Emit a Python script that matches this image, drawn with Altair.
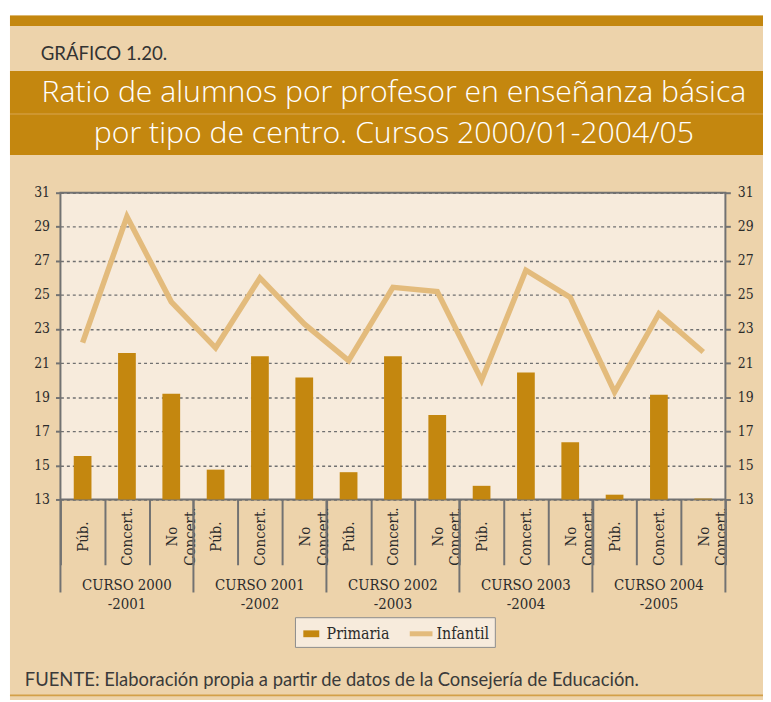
import altair as alt
import pandas as pd

# ---------------- data ----------------
cursos = ["CURSO 2000\n-2001", "CURSO 2001\n-2002", "CURSO 2002\n-2003",
          "CURSO 2003\n-2004", "CURSO 2004\n-2005"]
tipos = ["Púb.", "Concert.", "No Concert."]
primaria = [15.55, 21.6, 19.2, 14.75, 21.4, 20.15, 14.6, 21.4, 17.95,
            13.8, 20.45, 16.35, 13.28, 19.15, 13.05]
infantil = [22.2, 29.6, 24.6, 21.9, 26.0, 23.3, 21.15, 25.45, 25.2,
            20.0, 26.45, 24.85, 19.3, 23.9, 21.65]
y_ticks = list(range(13, 32, 2))
series = ["Primaria", "Infantil"]

titulo_1 = "Ratio de alumnos por profesor en enseñanza básica"
titulo_2 = "por tipo de centro. Cursos 2000/01-2004/05"
grafico = "GRÁFICO 1.20."
fuente = "FUENTE: Elaboración propia a partir de datos de la Consejería de Educación."

# ---------------- styles ----------------
BEIGE = "#EDD3AB"
CREAM = "#F7EBDC"
GOLD = "#C4870F"
LINEC = "#E3BB7C"
FRAME = "#727272"
SERIF = "DejaVu Serif Condensed, DejaVu Serif"
SANS = "Lato"
W, H = 672, 310

rows = []
for gi, c in enumerate(cursos):
    for ti, t in enumerate(tipos):
        k = gi * 3 + ti
        rows.append({"key": f"{k}|{t}", "curso": c, "primaria": primaria[k],
                     "infantil": infantil[k]})
df = pd.DataFrame(rows)
keys = list(df["key"])

long_df = pd.concat([
    pd.DataFrame({"key": keys, "valor": primaria, "serie": "Primaria"}),
    pd.DataFrame({"key": keys, "valor": infantil, "serie": "Infantil"}),
])

grp_start = pd.DataFrame({"key": [keys[g * 3] for g in range(len(cursos))]})
grp_end = pd.DataFrame({"key": [keys[-1]]})
grp_lab = pd.DataFrame({"key": [keys[g * 3 + 1] for g in range(len(cursos))],
                        "curso": cursos})
one = pd.DataFrame({"a": [0]})

xscale = alt.Scale(domain=keys, paddingInner=0, paddingOuter=0)
yscale = alt.Scale(domain=[13, 31], nice=False, zero=False)

x_axis = alt.Axis(
    title=None, orient="bottom",
    labelExpr="isValid(datum.value) ? split(split(datum.value, '|')[1], ' ') : ''",
    labelAngle=-90, labelAlign="center", labelBaseline="middle",
    labelPadding=-29, labelOverlap=False, labelFont=SERIF, labelFontSize=15,
    labelColor="#2b2b2b", labelLineHeight=18,
    tickBand="extent", tickSize=66, tickColor=FRAME, tickWidth=2,
    domain=False, grid=False,
)

bars = alt.Chart(df).mark_bar(color=GOLD, width=alt.RelativeBandSize(0.4)).encode(
    x=alt.X("key:N", scale=xscale, axis=x_axis),
    y=alt.Y("primaria:Q", scale=yscale,
            axis=alt.Axis(values=y_ticks, title=None, orient="left", grid=True,
                          gridDash=[3, 3], gridColor="#707070", gridWidth=1.4,
                          tickSize=5, tickColor=FRAME, tickWidth=2, domain=False,
                          labelFont=SERIF, labelFontSize=14, labelColor="#2b2b2b",
                          labelPadding=6)),
    y2=alt.datum(13),
)

line = alt.Chart(df).mark_line(color=LINEC, strokeWidth=5.5, strokeJoin="miter",
                               strokeCap="butt").encode(
    x=alt.X("key:N", scale=xscale, axis=None),
    y=alt.Y("infantil:Q", scale=yscale,
            axis=alt.Axis(values=y_ticks, title=None, orient="right", grid=False,
                          tickSize=5, tickColor=FRAME, tickWidth=2, domain=False,
                          labelFont=SERIF, labelFontSize=14, labelColor="#2b2b2b",
                          labelPadding=7)),
)

legend_kw = dict(orient="none", legendX=237, legendY=429, direction="horizontal",
                 title=None, fillColor=CREAM, strokeColor="#8c8c8c", padding=5,
                 labelFont=SERIF, labelFontSize=16, labelColor="#2b2b2b",
                 labelOffset=4, columnPadding=20, symbolSize=529,
                 symbolOpacity=1, symbolStrokeWidth=0)

legend_pts = alt.Chart(long_df).mark_point(filled=True, opacity=0).encode(
    x=alt.X("key:N", scale=xscale, axis=None),
    y=alt.Y("valor:Q", scale=yscale, axis=None),
    color=alt.Color("serie:N", scale=alt.Scale(domain=series, range=[GOLD, LINEC]),
                    legend=alt.Legend(**legend_kw)),
    shape=alt.Shape("serie:N", scale=alt.Scale(
        domain=series,
        range=["M-0.7,-0.3H0.7V0.3H-0.7Z", "M-1,-0.22H1V0.22H-1Z"]),
        legend=alt.Legend(**legend_kw)),
)

sep_start = alt.Chart(grp_start).mark_rule(color=FRAME, strokeWidth=2).encode(
    x=alt.X("key:N", scale=xscale, axis=None, bandPosition=0),
    y=alt.value(H), y2=alt.value(H + 94),
)
sep_end = alt.Chart(grp_end).mark_rule(color=FRAME, strokeWidth=2).encode(
    x=alt.X("key:N", scale=xscale, axis=None, bandPosition=1),
    y=alt.value(H), y2=alt.value(H + 94),
)
grp_text = alt.Chart(grp_lab).mark_text(
    lineBreak="\n", lineHeight=20, align="center", baseline="alphabetic",
    font=SERIF, fontSize=15, color="#2b2b2b").encode(
    x=alt.X("key:N", scale=xscale, axis=None),
    y=alt.value(H + 91),
    text="curso:N",
)

# ---------------- page decoration ----------------
def rect(x1, x2, y1, y2, color):
    return alt.Chart(one).mark_rect(color=color).encode(
        x=alt.value(x1), x2=alt.value(x2), y=alt.value(y1), y2=alt.value(y2))

white_top = rect(-70, 730, -200, -179, "white")
white_left = rect(-70, -51, -200, 520, "white")
top_bar = rect(-51, 730, -179, -168.5, GOLD)
band = rect(-51, 730, -123, -38, GOLD)
divider = rect(-51, 730, -80, -79, "#D8A652")
bottom_line = rect(-51, 730, 507, 509, "#D3A048")

def label(txt, x, y, size, color, align="left", weight=400, font=SANS):
    return alt.Chart(one).mark_text(
        text=txt, font=font, fontSize=size, color=color, align=align,
        baseline="alphabetic", fontWeight=weight).encode(
        x=alt.value(x), y=alt.value(y))

LIGHT = "Open Sans"
t_graf = label(grafico, -20, -134, 18.8, "#333333")
t_1 = label(titulo_1, 337, -92, 30.5, "white", "center", 300, LIGHT)
t_2 = label(titulo_2, 337, -50, 30.5, "white", "center", 300, LIGHT)
t_f = label(fuente, -36, 499, 18.6, "#3a3a3a")

chart = alt.layer(
    white_top, white_left, top_bar, band, divider, bottom_line,
    t_graf, t_1, t_2, t_f,
    bars, line, legend_pts, sep_start, sep_end, grp_text,
).resolve_axis(x="independent", y="independent").properties(
    width=W, height=H,
    autosize=alt.AutoSizeParams(type="none"),
    padding={"left": 53, "top": 183, "right": 38, "bottom": 199},
    background=BEIGE,
).configure_view(
    fill=CREAM, stroke=FRAME, strokeWidth=2,
)

chart.save("out.html", embed_options={"renderer": "svg", "actions": False})
